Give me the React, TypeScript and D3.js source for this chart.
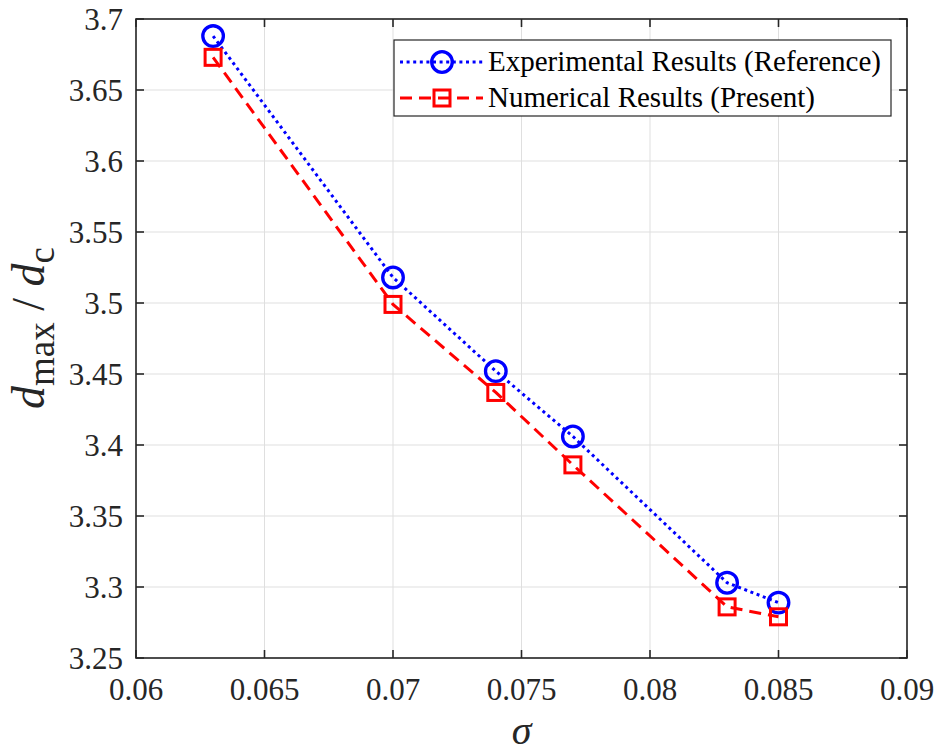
import React from "react";
import * as d3 from "d3";

const sigma = [0.063, 0.07, 0.074, 0.077, 0.083, 0.085];
const experimental = [3.688, 3.518, 3.452, 3.406, 3.303, 3.289];
const numerical = [3.673, 3.499, 3.437, 3.386, 3.286, 3.279];
const xTicks = [0.06, 0.065, 0.07, 0.075, 0.08, 0.085, 0.09];
const yTicks = [3.25, 3.3, 3.35, 3.4, 3.45, 3.5, 3.55, 3.6, 3.65, 3.7];
const legendLabels = ["Experimental Results (Reference)", "Numerical Results (Present)"];

const W = 939, H = 754;
const L = 136, R = 907, T = 19, B = 658;
const FONT = "Liberation Serif, DejaVu Serif, Times New Roman, serif";

export default function App() {
  const x = d3.scaleLinear().domain([0.06, 0.09]).range([L, R]);
  const y = d3.scaleLinear().domain([3.25, 3.7]).range([B, T]);
  const mk = d3.line<number>().x((_, i) => x(sigma[i])).y((d) => y(d));
  const expPath = mk(experimental) || "";
  const numPath = mk(numerical) || "";
  const tk = 8;
  const blue = "#0000ff", red = "#ff0000";
  const dotDash = "3,3.6";
  const redDash = "12,7";
  const rC = 10.3, sq = 16;
  const axisColor = "#262626";
  const fs = { fontFamily: FONT };

  return (
    <svg width={W} height={H} style={{ position: "absolute", left: 0, top: 0, background: "#fff", fontFamily: FONT }}>
      <rect x={0} y={0} width={W} height={H} fill="#fff" />
      {xTicks.map((t) => (
        <line key={"gx" + t} x1={x(t)} x2={x(t)} y1={T} y2={B} stroke="#dfdfdf" strokeWidth={1} />
      ))}
      {yTicks.map((t) => (
        <line key={"gy" + t} x1={L} x2={R} y1={y(t)} y2={y(t)} stroke="#dfdfdf" strokeWidth={1} />
      ))}
      <path d={expPath} fill="none" stroke={blue} strokeWidth={3} strokeDasharray={dotDash} />
      <path d={numPath} fill="none" stroke={red} strokeWidth={3} strokeDasharray={redDash} />
      {experimental.map((v, i) => (
        <circle key={"c" + i} cx={x(sigma[i])} cy={y(v)} r={rC} fill="none" stroke={blue} strokeWidth={3.3} />
      ))}
      {numerical.map((v, i) => (
        <rect key={"s" + i} x={x(sigma[i]) - sq / 2} y={y(v) - sq / 2} width={sq} height={sq} fill="none" stroke={red} strokeWidth={3} />
      ))}
      <rect x={L} y={T} width={R - L} height={B - T} fill="none" stroke={axisColor} strokeWidth={1.6} />
      {xTicks.map((t) => (
        <g key={"tx" + t}>
          <line x1={x(t)} x2={x(t)} y1={B} y2={B - tk} stroke={axisColor} strokeWidth={1.6} />
          <line x1={x(t)} x2={x(t)} y1={T} y2={T + tk} stroke={axisColor} strokeWidth={1.6} />
          <text x={x(t)} y={700} fontSize={31} textAnchor="middle" fill="#262626" style={fs}>{String(t)}</text>
        </g>
      ))}
      {yTicks.map((t) => (
        <g key={"ty" + t}>
          <line x1={L} x2={L + tk} y1={y(t)} y2={y(t)} stroke={axisColor} strokeWidth={1.6} />
          <line x1={R} x2={R - tk} y1={y(t)} y2={y(t)} stroke={axisColor} strokeWidth={1.6} />
          <text x={123} y={y(t) + 11} fontSize={31} textAnchor="end" fill="#262626" style={fs}>{String(t)}</text>
        </g>
      ))}
      <text x={(L + R) / 2} y={744} fontSize={40} fontStyle="italic" textAnchor="middle" fill="#262626" style={fs}>σ</text>
      <text transform="translate(44,328) rotate(-90)" textAnchor="middle" fill="#262626" fontSize={46} style={fs}>
        <tspan fontStyle="italic">d</tspan>
        <tspan fontSize={37} dy={10}>max</tspan>
        <tspan dy={-10}> / </tspan>
        <tspan fontStyle="italic">d</tspan>
        <tspan fontSize={37} dy={10}>c</tspan>
      </text>
      <rect x={394} y={40} width={497} height={76} fill="#fff" stroke={axisColor} strokeWidth={1.2} />
      <line x1={400} x2={483} y1={62} y2={62} stroke={blue} strokeWidth={3} strokeDasharray={dotDash} />
      <circle cx={442} cy={62} r={rC} fill="none" stroke={blue} strokeWidth={3.3} />
      <text x={488} y={71} fontSize={29} fill="#000" style={fs}>{legendLabels[0]}</text>
      <line x1={400} x2={483} y1={98} y2={98} stroke={red} strokeWidth={3} strokeDasharray={redDash} />
      <rect x={442 - sq / 2} y={98 - sq / 2} width={sq} height={sq} fill="none" stroke={red} strokeWidth={3} />
      <text x={488} y={107} fontSize={29} fill="#000" style={fs}>{legendLabels[1]}</text>
    </svg>
  );
}
